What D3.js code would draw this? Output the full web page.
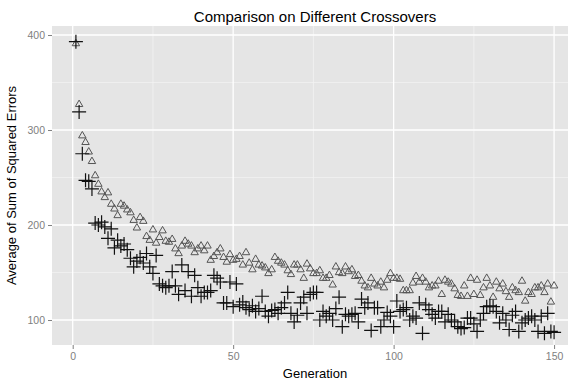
<!DOCTYPE html>
<html>
<head>
<meta charset="utf-8">
<script src="https://cdn.jsdelivr.net/npm/d3@7"></script>
<style>
  body { margin: 0; background: #fff; }
  svg { display: block; font-family: "Liberation Sans", Arial, sans-serif; }
</style>
</head>
<body>
<svg id="chart" width="568" height="381"></svg>
<script>
// generations 1..150
var generations = d3.range(1, 151);

// triangles (grey series)
var triangleSeries = [
  391, 327, 294, 287, 277, 267, 252, 243, 235, 229,
  234, 222, 217, 210, 222, 220, 216, 213, 205, 197,
  208, 204, 188, 184, 195, 181, 187, 194, 183, 182,
  185, 175, 170, 178, 183, 180, 178, 171, 175, 178,
  173, 178, 163, 167, 171, 175, 166, 161, 169, 163,
  164, 167, 158, 171, 160, 153, 164, 158, 157, 155,
  149, 153, 166, 162, 160, 158, 152, 148, 158, 158,
  153, 144, 159, 154, 149, 149, 152, 144, 144, 147,
  137, 156, 150, 149, 156, 151, 153, 146, 147, 141,
  136, 134, 144, 138, 136, 140, 134, 142, 149, 144,
  144, 143, 131, 131, 131, 139, 146, 140, 144, 140,
  134, 136, 136, 141, 127, 142, 140, 138, 133, 126,
  125, 136, 125, 144, 127, 142, 126, 134, 144, 136,
  124, 140, 133, 138, 130, 124, 134, 131, 129, 141,
  120, 129, 127, 134, 134, 136, 129, 138, 119, 136
];

// plus signs (black series)
var plusSeries = [
  393, 319, 275, 247, 246, 238, 202, 200, 203, 198,
  186, 196, 176, 184, 178, 180, 174, 165, 156, 162,
  166, 160, 170, 156, 149, 168, 138, 136, 134, 136,
  151, 136, 127, 158, 131, 151, 125, 147, 134, 125,
  129, 129, 131, 147, 144, 140, 118, 118, 140, 114,
  138, 116, 119, 113, 111, 115, 109, 112, 125, 109,
  104, 110, 111, 107, 113, 118, 129, 107, 98, 105,
  118, 124, 107, 127, 129, 129, 100, 109, 104, 107,
  100, 112, 124, 93, 106, 104, 106, 107, 98, 122,
  113, 118, 89, 113, 113, 93, 100, 108, 104, 93,
  120, 109, 111, 113, 100, 104, 102, 118, 86, 116,
  111, 106, 102, 109, 109, 98, 106, 100, 98, 93,
  91, 92, 102, 102, 96, 88, 100, 107, 114, 115,
  114, 109, 97, 107, 100, 90, 105, 109, 88, 97,
  100, 102, 104, 100, 88, 104, 86, 107, 88, 87
];

var xTicks = [0, 50, 100, 150];
var xMinor = [25, 75, 125];
var yTicks = [100, 200, 300, 400];
var yMinor = [150, 250, 350];

var svg = d3.select('#chart');
var panel = { left: 52, right: 578, top: 26, bottom: 345 };

var x = d3.scaleLinear().domain([-6.45, 157.45]).range([panel.left, panel.right]);
var y = d3.scaleLinear().domain([73.7, 409.5]).range([panel.bottom, panel.top]);

// panel background
svg.append('rect')
  .attr('x', panel.left).attr('y', panel.top)
  .attr('width', panel.right - panel.left)
  .attr('height', panel.bottom - panel.top)
  .attr('fill', '#e5e5e5');

// minor grid
var grid = svg.append('g');
grid.selectAll('.xminor').data(xMinor).enter().append('line')
  .attr('x1', d => x(d)).attr('x2', d => x(d))
  .attr('y1', panel.top).attr('y2', panel.bottom)
  .attr('stroke', '#f2f2f2').attr('stroke-width', 0.8);
grid.selectAll('.yminor').data(yMinor).enter().append('line')
  .attr('y1', d => y(d)).attr('y2', d => y(d))
  .attr('x1', panel.left).attr('x2', panel.right)
  .attr('stroke', '#f2f2f2').attr('stroke-width', 0.8);

// major grid
grid.selectAll('.xmajor').data(xTicks).enter().append('line')
  .attr('x1', d => x(d)).attr('x2', d => x(d))
  .attr('y1', panel.top).attr('y2', panel.bottom)
  .attr('stroke', '#ffffff').attr('stroke-width', 1.3);
grid.selectAll('.ymajor').data(yTicks).enter().append('line')
  .attr('y1', d => y(d)).attr('y2', d => y(d))
  .attr('x1', panel.left).attr('x2', panel.right)
  .attr('stroke', '#ffffff').attr('stroke-width', 1.3);

// axes
var xAxis = svg.append('g')
  .attr('transform', `translate(0, ${panel.bottom})`)
  .call(d3.axisBottom(x).tickValues(xTicks).tickSize(4).tickPadding(4));
var yAxis = svg.append('g')
  .attr('transform', `translate(${panel.left}, 0)`)
  .call(d3.axisLeft(y).tickValues(yTicks).tickSize(4).tickPadding(3));

[xAxis, yAxis].forEach(function(a) {
  a.select('.domain').remove();
  a.selectAll('line').attr('stroke', '#7f7f7f');
  a.selectAll('text').attr('fill', '#808080').style('font-size', '10.5px');
});

// points
var pts = svg.append('g');
var tri = d3.symbol().type(d3.symbolTriangle).size(24);

pts.selectAll('.tri').data(generations).enter().append('path')
  .attr('class', 'tri')
  .attr('d', tri)
  .attr('transform', (d, i) => `translate(${x(d)}, ${y(triangleSeries[i])})`)
  .attr('fill', 'none')
  .attr('stroke', '#555')
  .attr('stroke-width', 1);

pts.selectAll('.plus').data(generations).enter().append('path')
  .attr('class', 'plus')
  .attr('d', 'M-7,0H7M0,-7V7')
  .attr('transform', (d, i) => `translate(${x(d)}, ${y(plusSeries[i])})`)
  .attr('fill', 'none')
  .attr('stroke', '#111')
  .attr('stroke-width', 1.2);

// titles
var cx = (panel.left + panel.right) / 2;
svg.append('text')
  .attr('x', cx).attr('y', 21.5)
  .attr('text-anchor', 'middle')
  .style('font-size', '15px')
  .attr('fill', '#000')
  .text('Comparison on Different Crossovers');

svg.append('text')
  .attr('x', cx).attr('y', 378)
  .attr('text-anchor', 'middle')
  .style('font-size', '13px')
  .attr('fill', '#000')
  .text('Generation');

svg.append('text')
  .attr('transform', `translate(16, ${(panel.top + panel.bottom) / 2}) rotate(-90)`)
  .attr('text-anchor', 'middle')
  .style('font-size', '13px')
  .attr('fill', '#000')
  .text('Average of Sum of Squared Errors');
</script>
</body>
</html>
